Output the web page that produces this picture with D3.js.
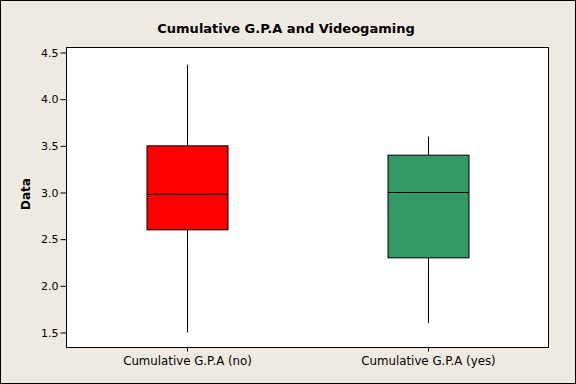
<!DOCTYPE html>
<html><head><meta charset="utf-8">
<script src="https://cdn.jsdelivr.net/npm/d3@7"></script>
<style>
html,body{margin:0;padding:0;background:#EEEAE1;}
svg{display:block;}
text{font-family:"DejaVu Sans",Verdana,sans-serif;fill:#000;}
</style></head>
<body>
<script>
const title = "Cumulative G.P.A and Videogaming";
const yLabel = "Data";
const categories = ["Cumulative G.P.A (no)", "Cumulative G.P.A (yes)"];
const whiskerLow = [1.5, 1.6];
const q1 = [2.6, 2.3];
const median = [2.98, 3.0];
const q3 = [3.5, 3.4];
const whiskerHigh = [4.37, 3.6];
const colors = ["#FF0000", "#339966"];
const yTicks = [1.5, 2.0, 2.5, 3.0, 3.5, 4.0, 4.5];

const W = 576, H = 384;
const frame = {left: 66.5, right: 548.5, top: 47.5, bottom: 347.5};

const svg = d3.select("body").append("svg").attr("width", W).attr("height", H);
svg.append("rect").attr("x",0.5).attr("y",0.5).attr("width",W-1).attr("height",H-1)
  .attr("fill","#EEEAE1").attr("stroke","#000");

const y = d3.scaleLinear().domain([1.5, 4.5]).range([332.5, 52.5]);
const x = d3.scalePoint().domain(categories).range([frame.left, frame.right]).padding(0.5);

svg.append("rect").attr("x",frame.left).attr("y",frame.top)
  .attr("width",frame.right-frame.left).attr("height",frame.bottom-frame.top)
  .attr("fill","#fff").attr("stroke","#000");

const yAxis = d3.axisLeft(y).tickValues(yTicks).tickFormat(d3.format(".1f")).tickSize(6).tickPadding(2);
const ga = svg.append("g").attr("transform",`translate(${frame.left},0)`).call(yAxis);
ga.select(".domain").remove();
ga.selectAll("text").attr("font-size",11).attr("font-family","DejaVu Sans, sans-serif").attr("fill","#000");

const xAxis = d3.axisBottom(x).tickSize(4).tickPadding(5);
const gx = svg.append("g").attr("transform",`translate(0,${frame.bottom})`).call(xAxis);
gx.select(".domain").remove();
gx.selectAll("text").attr("font-size",11.8).attr("font-family","DejaVu Sans, sans-serif").attr("fill","#000");

svg.append("text").attr("x",286).attr("y",33).attr("text-anchor","middle")
  .attr("font-size",13).attr("font-weight","bold").text(title);
svg.append("text").attr("transform","translate(29.5,194) rotate(-90)")
  .attr("text-anchor","middle").attr("font-size",12).attr("font-weight","bold").text(yLabel);

const boxW = 81;
const data = categories.map((c,i)=>({c, lo:whiskerLow[i], q1:q1[i], med:median[i], q3:q3[i], hi:whiskerHigh[i], col:colors[i]}));
const g = svg.append("g");
data.forEach(d=>{
  const cx = Math.round(x(d.c)) + 0.5;
  g.append("line").attr("x1",cx).attr("x2",cx).attr("y1",y(d.hi)).attr("y2",y(d.q3)).attr("stroke","#000");
  g.append("line").attr("x1",cx).attr("x2",cx).attr("y1",y(d.q1)).attr("y2",y(d.lo)).attr("stroke","#000");
  g.append("rect").attr("x",cx-boxW/2).attr("y",y(d.q3)).attr("width",boxW).attr("height",y(d.q1)-y(d.q3))
    .attr("fill",d.col).attr("stroke","#000");
  g.append("line").attr("x1",cx-boxW/2).attr("x2",cx+boxW/2).attr("y1",y(d.med)).attr("y2",y(d.med)).attr("stroke","#000");
});
</script>
</body></html>
